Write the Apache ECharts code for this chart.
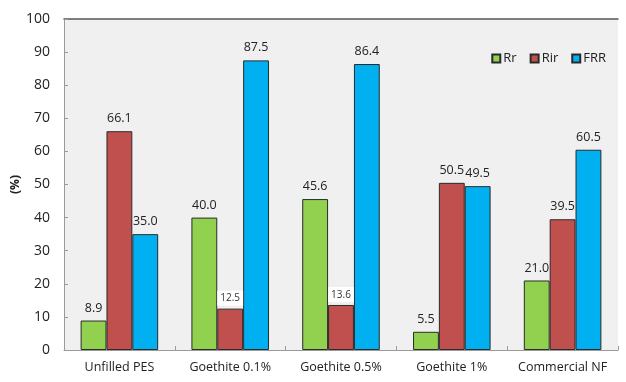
<!DOCTYPE html>
<html>
<head>
<meta charset="utf-8">
<script src="https://cdn.jsdelivr.net/npm/echarts@6/dist/echarts.min.js"></script>
<style>
  html, body { margin: 0; padding: 0; background: #ffffff; }
  #chart { width: 626px; height: 382px; }
</style>
</head>
<body>
<div id="chart"></div>
<script>
// Membrane samples and their flux recovery figures (%)
const categories = ['Unfilled PES', 'Goethite 0.1%', 'Goethite 0.5%', 'Goethite 1%', 'Commercial NF'];
const rr  = [8.9, 40.0, 45.6, 5.5, 21.0];
const rir = [66.1, 12.5, 13.6, 50.5, 39.5];
const frr = [35.0, 87.5, 86.4, 49.5, 60.5];
const yTicks = [0, 10, 20, 30, 40, 50, 60, 70, 80, 90, 100];

const FONT = 'Open Sans';
const chart = echarts.init(document.getElementById('chart'));

// Short bars carry a smaller label on a white box
function labelFor(v) {
  if (v > 10 && v < 15) {
    return {
      show: true, position: 'top', distance: 3,
      formatter: (p) => p.value.toFixed(1),
      fontFamily: FONT, fontSize: 10, color: '#333',
      backgroundColor: '#ffffff', padding: [3, 3, 2, 3]
    };
  }
  return {
    show: true, position: 'top', distance: 6,
    formatter: (p) => p.value.toFixed(1),
    fontFamily: FONT, fontSize: 12.5, color: '#222'
  };
}

function makeSeries(name, values, color) {
  return {
    name: name,
    type: 'bar',
    barGap: '0%',
    barCategoryGap: '30%',
    itemStyle: { color: color, borderColor: '#2a2a2a', borderWidth: 1 },
    data: values.map(v => ({ value: v, label: labelFor(v) }))
  };
}

chart.setOption({
  animation: false,
  backgroundColor: '#ffffff',
  textStyle: { fontFamily: FONT },
  legend: {
    top: 47, right: 15,
    icon: 'rect', itemWidth: 8, itemHeight: 8, itemGap: 13,
    textStyle: { fontFamily: FONT, fontSize: 13, color: '#222', padding: [0, 0, 0, -2] },
    data: ['Rr', 'Rir', 'FRR']
  },
  grid: {
    left: 64, right: 8, top: 19, bottom: 32,
    outerBoundsMode: 'none',
    show: true, backgroundColor: '#f0f0f0', borderWidth: 0
  },
  xAxis: [{
    type: 'category',
    data: categories,
    axisLine: { lineStyle: { color: '#9a9a9a', width: 1 } },
    axisTick: { show: true, inside: true, length: 4, lineStyle: { color: '#9a9a9a' } },
    axisLabel: { interval: 0, fontFamily: FONT, fontSize: 12.5, color: '#222', margin: 11 }
  }, {
    type: 'category',
    position: 'top',
    data: categories,
    axisLine: { lineStyle: { color: '#555', width: 1.5 } },
    axisTick: { show: false },
    axisLabel: { show: false }
  }],
  yAxis: {
    type: 'value',
    min: yTicks[0], max: yTicks[yTicks.length - 1], interval: 10,
    name: '(%)',
    nameLocation: 'middle',
    nameGap: 42,
    nameMoveOverlap: false,
    nameTextStyle: { fontFamily: FONT, fontSize: 12, fontWeight: 'bold', color: '#222' },
    axisLine: { show: true, lineStyle: { color: '#9a9a9a', width: 1 } },
    axisTick: { show: true, inside: true, length: 4, lineStyle: { color: '#9a9a9a' } },
    splitLine: { show: false },
    axisLabel: { fontFamily: FONT, fontSize: 14, color: '#222', margin: 14 }
  },
  series: [
    makeSeries('Rr', rr, '#92d050'),
    makeSeries('Rir', rir, '#c0504d'),
    makeSeries('FRR', frr, '#00b0f0')
  ]
});
</script>
</body>
</html>
